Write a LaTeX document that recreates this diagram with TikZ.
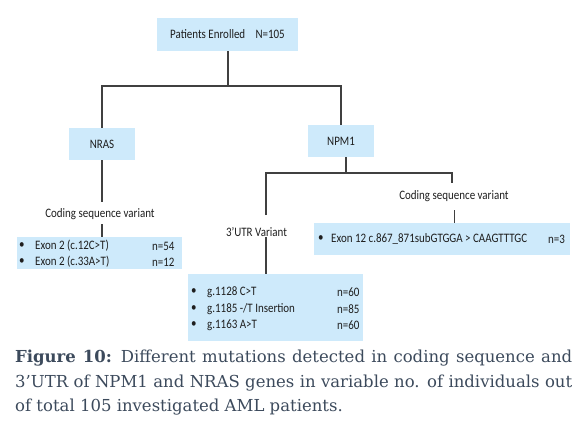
\documentclass[tikz,border=0pt]{standalone}
\usepackage{fontspec}
\setmainfont{Carlito}[FakeStretch=0.85]
\newfontfamily\capfont{DejaVu Serif}
\usetikzlibrary{calc}
\definecolor{boxblue}{RGB}{206,234,251}
\definecolor{linegray}{RGB}{64,64,64}
\definecolor{txt}{RGB}{30,30,30}
\definecolor{captxt}{RGB}{60,74,92}
\tikzset{
  bx/.style={fill=boxblue, draw=none, inner sep=0pt},
  lbl/.style={font=\fontsize{12.9}{15}\selectfont, text=txt, inner sep=0pt},
  row/.style={lbl, anchor=west},
  conn/.style={draw=linegray, line width=1.1pt},
  capline/.style={font=\capfont\fontsize{16.5}{20}\selectfont, text=captxt, anchor=west, inner sep=0pt}
}
\begin{document}
\begin{tikzpicture}[x=1pt,y=-1pt]
\useasboundingbox (0,0) rectangle (588,425);
% boxes
\node[bx, minimum width=141pt, minimum height=33pt] (root) at (227.5,34.5) {};
\node[lbl] (roottext) at (227.5,34.5) {Patients Enrolled\hspace{0.8em}N=105};
\node[bx, minimum width=66pt, minimum height=32pt] (nras) at (102,144) {};
\node[lbl] (nrastext) at (102,144) {NRAS};
\node[bx, minimum width=66pt, minimum height=32pt] (npm) at (341,141) {};
\node[lbl] (npmtext) at (341,141) {NPM1};
% labels
\node[lbl] (nrascod) at (100,214) {Coding sequence variant};
\node[lbl] (utrlab) at (256.5,232) {3’UTR Variant};
\node[lbl] (npmcod) at (454,196) {Coding sequence variant};
% leaf boxes
\node[bx, minimum width=165pt, minimum height=32pt] (nrasbox) at (99.5,253) {};
\node[row] (b1) at (19,246) {•};
\node[row] (t1) at (35,246) {Exon 2 (c.12C>T)};
\node[row] (n1) at (152,246) {n=54};
\node[row] (b2) at (19,262) {•};
\node[row] (t2) at (35,262) {Exon 2 (c.33A>T)};
\node[row] (n2) at (152,262) {n=12};
\node[bx, minimum width=175pt, minimum height=67pt] (utrbox) at (275.5,307.5) {};
\node[row] (b3) at (191,292) {•};
\node[row] (t3) at (207,292) {g.1128 C>T};
\node[row] (n3) at (337,292) {n=60};
\node[row] (b4) at (191,309) {•};
\node[row] (t4) at (207,309) {g.1185 -/T Insertion};
\node[row] (n4) at (337,309) {n=85};
\node[row] (b5) at (191,325) {•};
\node[row] (t5) at (207,325) {g.1163 A>T};
\node[row] (n5) at (337,325) {n=60};
\node[bx, minimum width=256pt, minimum height=32pt] (exbox) at (442,239) {};
\node[row] (b6) at (318,239) {•};
\node[row] (t6) at (331,239) {Exon 12 c.867\_871subGTGGA > CAAGTTTGC};
\node[row] (n6) at (548,239) {n=3};
% connectors
\coordinate (j1) at (228,86);
\draw[conn] (root.south -| j1) -- (j1);
\draw[conn] (nras.north) |- (j1) -| (npm.north);
\coordinate (j2) at (346,173);
\coordinate (utrtop) at (266,215);
\coordinate (utrbot) at (266,237);
\coordinate (cr) at (452,183);
\draw[conn] (npm.south -| j2) -- (j2);
\draw[conn] (utrtop) |- (j2) -| (cr);
\draw[conn] (utrbot) -- (utrbox.north -| utrbot);
\coordinate (nc1) at (102,202);
\coordinate (nc2) at (102,224);
\draw[conn] (nras.south) -- (nc1);
\draw[conn] (nc2) -- (nrasbox.north -| nc2);
\coordinate (pc2) at (454.7,210);
\draw[conn] (pc2) -- (exbox.north -| pc2);
% caption
\node[capline] (cap1) at (15,358) {\makebox[557pt][s]{\textbf{Figure 10:} Different mutations detected in coding sequence and}};
\node[capline] (cap2) at (15,383) {\makebox[557pt][s]{3’UTR of NPM1 and NRAS genes in variable no. of individuals out}};
\node[capline] (cap3) at (15,407) {of total 105 investigated AML patients.};
\end{tikzpicture}
\end{document}
